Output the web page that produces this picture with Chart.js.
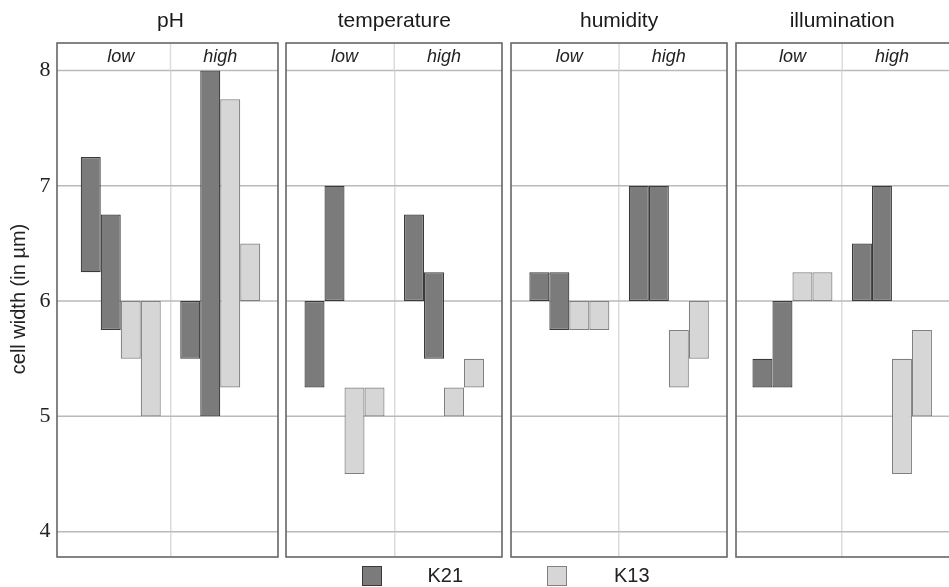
<!DOCTYPE html>
<html>
<head>
<meta charset="utf-8">
<script src="https://cdn.jsdelivr.net/npm/chart.js@4.4.1/dist/chart.umd.min.js"></script>
<style>
  body { margin: 0; background: #fff; }
  #wrap { position: relative; width: 949px; height: 587px; overflow: hidden; font-family: 'Liberation Sans', Arial, sans-serif; }
  #wrap canvas { position: absolute; top: 0; }
  .swatch { position: absolute; top: 566px; width: 20px; height: 20px; box-sizing: border-box; border: 1px solid #555; }
  .lab { position: absolute; top: 564px; font-size: 20px; line-height: 22px; color: #222; }
</style>
</head>
<body>
<div id="wrap"></div>
<script>
const panels = ['pH', 'temperature', 'humidity', 'illumination'];
const levels = ['low', 'high'];
const seriesNames = ['K21', 'K13'];
const yTicks = [4, 5, 6, 7, 8];

// floating bars [from, to]: pH low, pH high, temperature low, temperature high, ...
const k21First  = [[6.25, 7.25], [5.5, 6.0], [5.25, 6.0], [6.0, 6.75], [6.0, 6.25], [6.0, 7.0], [5.25, 5.5], [6.0, 6.5]];
const k21Second = [[5.75, 6.75], [5.0, 8.0], [6.0, 7.0], [5.5, 6.25], [5.75, 6.25], [6.0, 7.0], [5.25, 6.0], [6.0, 7.0]];
const k13First  = [[5.5, 6.0], [5.25, 7.75], [4.5, 5.25], [5.0, 5.25], [5.75, 6.0], [5.25, 5.75], [6.0, 6.25], [4.5, 5.5]];
const k13Second = [[5.0, 6.0], [6.0, 6.5], [5.0, 5.25], [5.25, 5.5], [5.75, 6.0], [5.5, 6.0], [6.0, 6.25], [5.0, 5.75]];

const darkFill = '#7b7b7b', darkLine = '#3a3a3a';
const lightFill = '#d6d6d6', lightLine = '#808080';
const sans = "'Liberation Sans', Arial, sans-serif";

// page layout of the four panels
const canvasLeft  = [0, 284, 509, 734];
const canvasWidth = [280, 220, 220, 215];
const padLeft  = [0, 10.75, 10.6, 8.7];
const padRight = [10, 10.25, 10.4, 7.3];
const frameLeft  = [57, 286, 511, 736];
const frameRight = [278, 502, 727, 951];

const panelFrame = {
    id: 'panelFrame',
    beforeDatasetsDraw(chart, args, opts) {
        const { ctx, chartArea, scales: { x, y } } = chart;
        ctx.save();
        ctx.lineWidth = 1.5;
        ctx.strokeStyle = '#bababa';
        yTicks.forEach(v => {
            const py = y.getPixelForValue(v);
            ctx.beginPath();
            ctx.moveTo(opts.left, py);
            ctx.lineTo(opts.right, py);
            ctx.stroke();
        });
        // divider continues through the low/high strip
        const mid = (x.getPixelForValue(0) + x.getPixelForValue(1)) / 2;
        ctx.strokeStyle = '#dcdcdc';
        ctx.beginPath();
        ctx.moveTo(mid, opts.top);
        ctx.lineTo(mid, chartArea.top);
        ctx.stroke();
        ctx.restore();
    },
    afterDraw(chart, args, opts) {
        const { ctx, chartArea } = chart;
        ctx.save();
        ctx.lineWidth = 1.6;
        ctx.strokeStyle = '#666';
        ctx.strokeRect(opts.left, opts.top, opts.right - opts.left, chartArea.bottom - opts.top);
        if (opts.yLabel) {
            ctx.translate(19, 299);
            ctx.rotate(-Math.PI / 2);
            ctx.fillStyle = '#222';
            ctx.font = '20px ' + sans;
            ctx.textAlign = 'center';
            ctx.textBaseline = 'middle';
            ctx.fillText(opts.yLabel, 0, 0);
        }
        ctx.restore();
    }
};

const wrap = document.getElementById('wrap');

panels.forEach((name, p) => {
    const canvas = document.createElement('canvas');
    canvas.width = canvasWidth[p];
    canvas.height = 587;
    canvas.style.left = canvasLeft[p] + 'px';
    wrap.appendChild(canvas);

    const part = arr => arr.slice(p * 2, p * 2 + 2);
    const bar = (label, data, fill, line) => ({
        label: label,
        data: part(data),
        backgroundColor: fill,
        borderColor: line,
        borderWidth: 1.2,
        borderSkipped: false,
        barPercentage: 1,
        categoryPercentage: 0.804
    });

    new Chart(canvas.getContext('2d'), {
        type: 'bar',
        data: {
            labels: levels,
            datasets: [
                bar(seriesNames[0], k21First, darkFill, darkLine),
                bar(seriesNames[0], k21Second, darkFill, darkLine),
                bar(seriesNames[1], k13First, lightFill, lightLine),
                bar(seriesNames[1], k13Second, lightFill, lightLine)
            ]
        },
        options: {
            responsive: false,
            animation: false,
            layout: {
                padding: { left: padLeft[p], right: padRight[p], top: 0, bottom: 30 }
            },
            plugins: {
                legend: { display: false },
                tooltip: { enabled: false },
                title: {
                    display: true,
                    text: name,
                    fullSize: false,
                    color: '#1a1a1a',
                    font: { family: sans, size: 21, weight: 'normal' },
                    padding: { top: 9, bottom: 8.8 }
                },
                panelFrame: {
                    left: frameLeft[p] - canvasLeft[p],
                    right: frameRight[p] - canvasLeft[p],
                    top: 43,
                    yLabel: p === 0 ? 'cell width (in µm)' : ''
                }
            },
            scales: {
                x: {
                    type: 'category',
                    position: 'top',
                    offset: true,
                    grid: {
                        offset: true,
                        drawTicks: false,
                        lineWidth: 1.5,
                        color: c => c.index === 1 ? '#dcdcdc' : 'rgba(0,0,0,0)'
                    },
                    border: { display: false },
                    ticks: {
                        color: '#222',
                        padding: 3,
                        font: { family: sans, size: 18, style: 'italic' }
                    },
                    afterFit: s => { s.height = 27.5; }
                },
                y: {
                    display: p === 0,
                    min: 3.78,
                    max: 8,
                    grid: { display: false, drawTicks: false },
                    border: { display: false },
                    afterBuildTicks: s => { s.ticks = yTicks.map(v => ({ value: v })); },
                    afterFit: s => {
                        s.width = p === 0 ? 71 : 0;
                        s.paddingTop = 0;
                        s.paddingBottom = 0;
                    },
                    ticks: {
                        color: '#222',
                        padding: 20.5,
                        font: { family: "'Liberation Serif', 'Times New Roman', serif", size: 22 }
                    }
                }
            }
        },
        plugins: [panelFrame]
    });
});

// legend under the panels
const legendItems = [
    { name: seriesNames[0], fill: darkFill, line: darkLine, box: 361.5, text: 427.5 },
    { name: seriesNames[1], fill: lightFill, line: lightLine, box: 546.5, text: 614 }
];
legendItems.forEach(item => {
    const sw = document.createElement('div');
    sw.className = 'swatch';
    sw.style.left = item.box + 'px';
    sw.style.background = item.fill;
    sw.style.borderColor = item.line;
    wrap.appendChild(sw);
    const lab = document.createElement('div');
    lab.className = 'lab';
    lab.style.left = item.text + 'px';
    lab.textContent = item.name;
    wrap.appendChild(lab);
});
</script>
</body>
</html>
